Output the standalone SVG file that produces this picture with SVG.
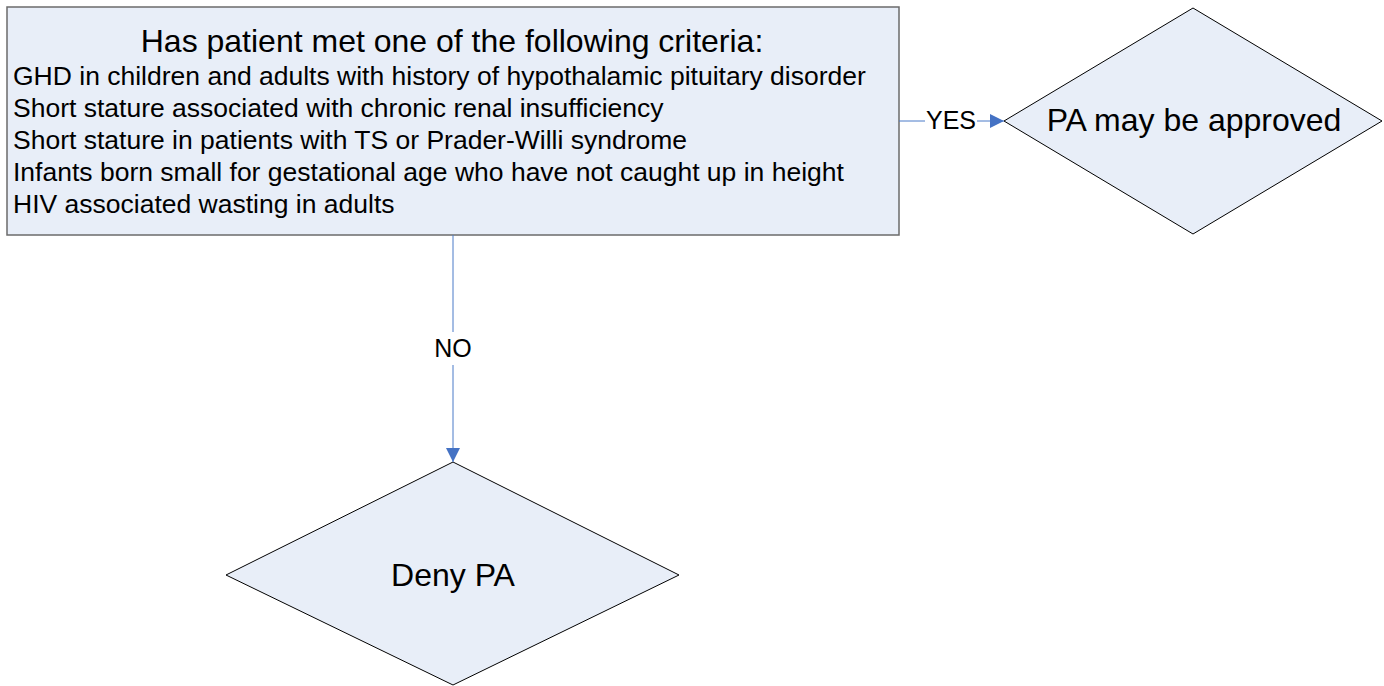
<svg xmlns="http://www.w3.org/2000/svg" width="1384" height="686" viewBox="0 0 1384 686">
<style>
text{font-family:"Liberation Sans",Arial,sans-serif;fill:#000}
.box{fill:#E8EEF8;stroke:#6B6B6B;stroke-width:1.5}
.dia{fill:#E8EEF8;stroke:#000;stroke-width:1}
.con{stroke:#4A7BC8;stroke-width:1;fill:none}
.lbl{font-size:25px;text-anchor:middle}
.big{font-size:32px;text-anchor:middle}
.ttl{font-size:32px;text-anchor:middle}
.ln{font-size:26.5px}
</style>
<defs>
<marker id="ah" viewBox="0 0 10 10" refX="10" refY="5" markerWidth="14" markerHeight="14" markerUnits="userSpaceOnUse" orient="auto">
<path d="M0,0 L10,5 L0,10 Z" fill="#4472C4"/>
</marker>
</defs>
<g id="criteria">
<rect class="box" x="7" y="7" width="892" height="228"/>
<text class="ttl" x="452" y="52">Has patient met one of the following criteria:</text>
<text class="ln" x="13" y="85">GHD in children and adults with history of hypothalamic pituitary disorder</text>
<text class="ln" x="13" y="117">Short stature associated with chronic renal insufficiency</text>
<text class="ln" x="13" y="149">Short stature in patients with TS or Prader-Willi syndrome</text>
<text class="ln" x="13" y="181">Infants born small for gestational age who have not caught up in height</text>
<text class="ln" x="13" y="213">HIV associated wasting in adults</text>
</g>
<g id="approved">
<polygon class="dia" points="1193,8 1382,121 1193,234 1004,121"/>
<text class="big" x="1194" y="131">PA may be approved</text>
</g>
<g id="deny">
<polygon class="dia" points="453,462 679,575 453,685 226,575"/>
<text class="big" x="453" y="586">Deny PA</text>
</g>
<g id="connectors">
<path class="con" d="M899,121 H925"/>
<path class="con" d="M977,121 H1004" marker-end="url(#ah)"/>
<text class="lbl" x="951" y="129">YES</text>
<path class="con" d="M453,235 V332"/>
<path class="con" d="M453,365 V462" marker-end="url(#ah)"/>
<text class="lbl" x="453" y="357">NO</text>
</g>
</svg>
